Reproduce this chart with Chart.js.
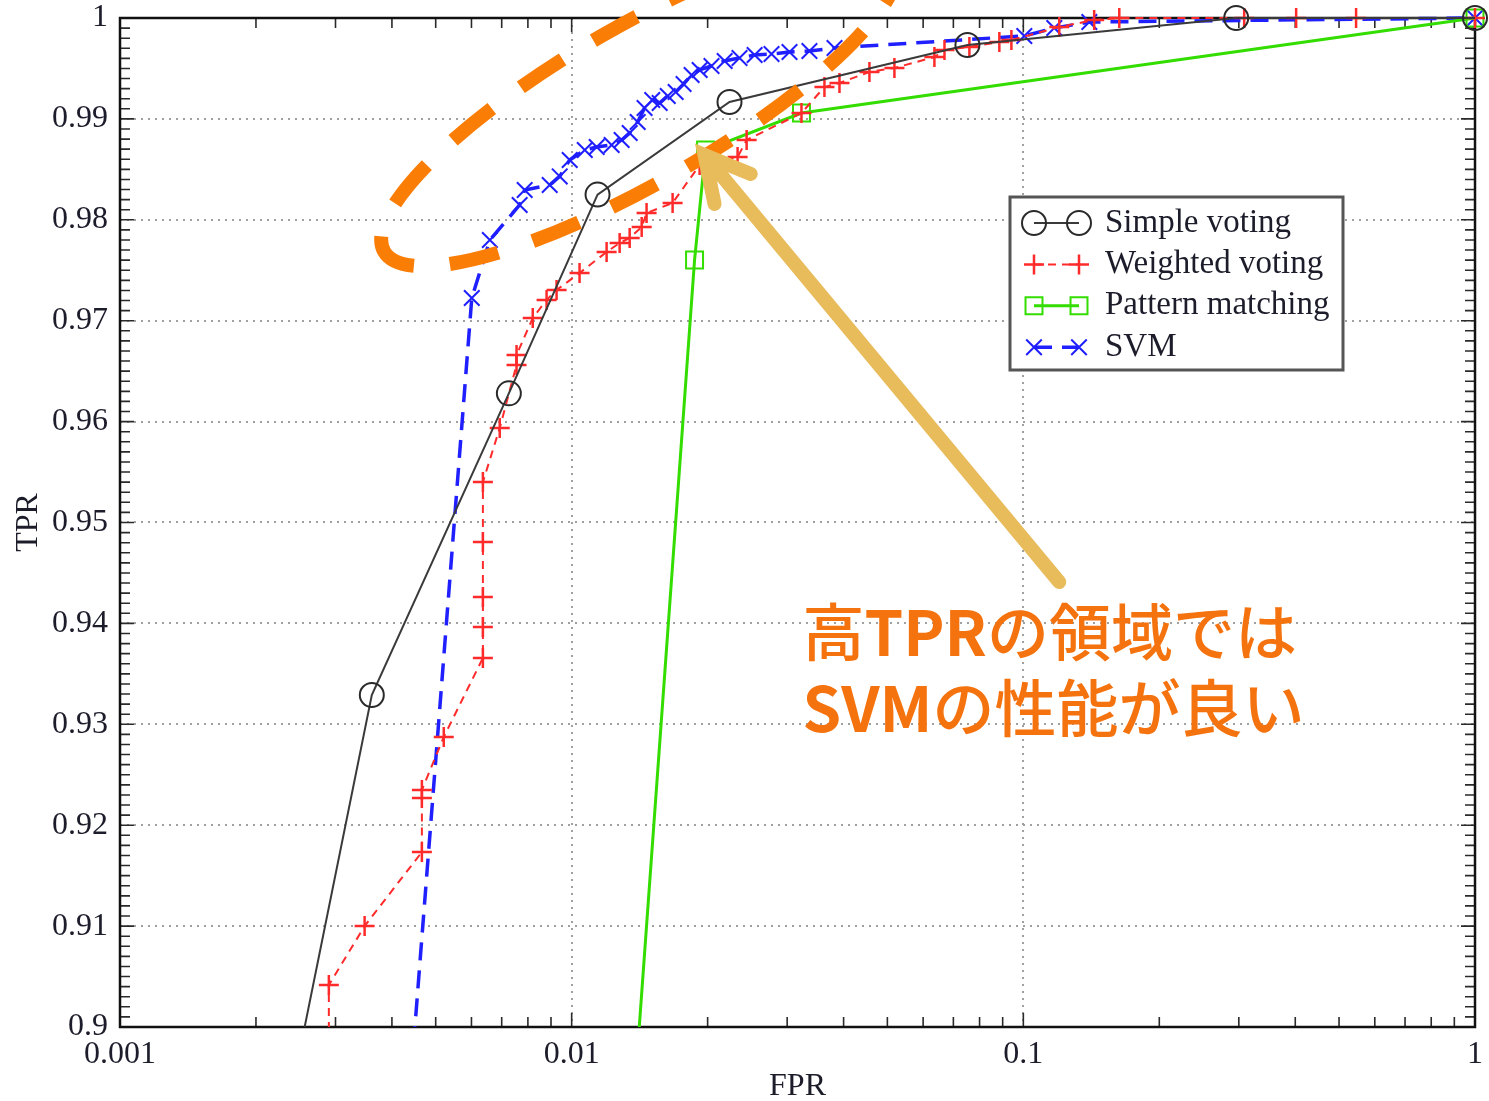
<!DOCTYPE html>
<html>
<head>
<meta charset="utf-8">
<script src="https://cdn.jsdelivr.net/npm/chart.js@4.4.0/dist/chart.umd.min.js"></script>
<style>
html, body { margin: 0; padding: 0; background: #fff; }
#wrap { width: 1489px; height: 1101px; }
</style>
</head>
<body>
<div id="wrap"><canvas id="roc"></canvas></div>
<script>
// ROC curves, values (FPR on a log axis)
const simpleFpr = [0.00231, 0.00361, 0.00726, 0.01141, 0.02236, 0.0752, 0.296, 1];
const simpleTpr = [0.89, 0.9329, 0.9628, 0.9825, 0.99167, 0.99732, 1.0, 1.0];

const weightedFpr = [0.0029, 0.0029, 0.00348, 0.00466, 0.00466, 0.00466, 0.00521, 0.00636, 0.00636, 0.00636,
  0.00636, 0.00636, 0.00693, 0.00755, 0.00755, 0.0082, 0.0088, 0.00926, 0.01041, 0.01195,
  0.01277, 0.01344, 0.01429, 0.01465, 0.01673, 0.0192, 0.0233, 0.0244, 0.03227, 0.03628,
  0.03917, 0.04563, 0.05183, 0.06355, 0.0669, 0.07596, 0.08849, 0.0941, 0.1201, 0.1435,
  0.1631, 0.3083, 0.4018, 0.5454, 1];
const weightedTpr = [0.89, 0.90416, 0.91, 0.91734, 0.9227, 0.9235, 0.92874, 0.93657, 0.93964, 0.94262,
  0.94807, 0.95401, 0.95937, 0.96561, 0.9666, 0.97027, 0.97205, 0.97304, 0.97473, 0.97681,
  0.9777, 0.9782, 0.97929, 0.98067, 0.98167, 0.98543, 0.98622, 0.98791, 0.99058, 0.99316,
  0.99356, 0.99465, 0.99505, 0.99613, 0.99683, 0.99713, 0.99762, 0.99782, 0.99911, 0.9998,
  1.0, 1.0, 1.0, 1.0, 1.0];

const patternFpr = [0.0136, 0.01871, 0.01979, 0.03227, 1];
const patternTpr = [0.89, 0.97601, 0.98692, 0.99058, 1.0];

const svmFpr = [0.00432, 0.00601, 0.00659, 0.00767, 0.00787, 0.00894, 0.00941, 0.0099, 0.01069, 0.01136,
  0.01226, 0.0129, 0.01344, 0.014, 0.0145, 0.01508, 0.01566, 0.01632, 0.01699, 0.01769,
  0.01843, 0.0192, 0.0204, 0.02181, 0.02353, 0.02541, 0.0277, 0.03036, 0.03361, 0.03819,
  0.1005, 0.1171, 0.14, 1];
const svmTpr = [0.89, 0.97225, 0.978, 0.98147, 0.98295, 0.98345, 0.9843, 0.98593, 0.98692, 0.98721,
  0.98741, 0.98791, 0.9886, 0.98969, 0.99108, 0.99187, 0.99158, 0.99227, 0.99267, 0.99346,
  0.99435, 0.99485, 0.99524, 0.99574, 0.99604, 0.99633, 0.99643, 0.99663, 0.99673, 0.99703,
  0.99822, 0.99901, 0.9996, 1.0];

const seriesNames = ["Simple voting", "Weighted voting", "Pattern matching", "SVM"];

const xMajorTicks = [0.001, 0.01, 0.1, 1];
const xTickLabels = ["0.001", "0.01", "0.1", "1"];
const yTickLabels = ["0.9", "0.91", "0.92", "0.93", "0.94", "0.95", "0.96", "0.97", "0.98", "0.99", "1"];

// annotation anchors (data space)
const ringCenter = [0.01414, 0.99148];
const arrowTip = [0.01968, 0.98642];
const arrowTail = [0.1201, 0.9441];
const noteAnchor = [0.03244, 0.93915];
const noteLines = [
  [["高", false], ["TPR", true], ["の領域では", false]],
  [["SVM", true], ["の性能が良い", false]]
];

const pts = (xs, ys) => xs.map((v, i) => ({ x: v, y: ys[i] }));

// minor ticks: 2..9 inside each decade, 0.001 steps on y
const xTicks = [];
xMajorTicks.forEach((d, i) => {
  xTicks.push({ value: d, major: true });
  if (i < xMajorTicks.length - 1) for (let k = 2; k <= 9; k++) xTicks.push({ value: d * k, major: false });
});
const yTicks = [];
for (let i = 0; i <= 100; i++) yTicks.push({ value: 0.9 + i / 1000, major: i % 10 === 0 });

const serif = "'Liberation Serif', 'Times New Roman', serif";
const clipBox = { left: 0, bottom: 0, top: 16, right: 16 };

function marker(ctx, ds, x, y) {
  ctx.save();
  ctx.strokeStyle = ds.pointBorderColor;
  ctx.fillStyle = 'rgba(0,0,0,0)';
  ctx.lineWidth = ds.pointBorderWidth;
  ctx.setLineDash([]);
  Chart.helpers.drawPoint(ctx, { pointStyle: ds.pointStyle, radius: ds.pointRadius, borderWidth: ds.pointBorderWidth, rotation: 0 }, x, y);
  ctx.restore();
}

const frame = {
  id: 'frame',
  beforeDatasetsDraw(chart) {
    const { ctx, chartArea: a, scales: { x, y } } = chart;
    ctx.save();
    ctx.strokeStyle = '#2a2a2a';
    ctx.lineWidth = 1.6;
    ctx.beginPath();
    x.ticks.forEach(t => {
      const px = x.getPixelForValue(t.value);
      const len = t.major ? 14 : 10;
      ctx.moveTo(px, a.bottom); ctx.lineTo(px, a.bottom - len);
      ctx.moveTo(px, a.top); ctx.lineTo(px, a.top + len);
    });
    y.ticks.forEach(t => {
      const py = y.getPixelForValue(t.value);
      const len = t.major ? 14 : 10;
      ctx.moveTo(a.left, py); ctx.lineTo(a.left + len, py);
      ctx.moveTo(a.right, py); ctx.lineTo(a.right - len, py);
    });
    ctx.stroke();
    ctx.lineWidth = 2.5;
    ctx.strokeStyle = '#111';
    ctx.strokeRect(a.left, a.top, a.right - a.left, a.bottom - a.top);
    ctx.restore();
  }
};

const legendBox = {
  id: 'legendBox',
  afterDatasetsDraw(chart) {
    const { ctx, chartArea: a } = chart;
    const bx = a.left + 890, by = a.top + 179, bw = 333, bh = 173;
    ctx.save();
    ctx.fillStyle = '#fff';
    ctx.fillRect(bx, by, bw, bh);
    ctx.strokeStyle = '#555';
    ctx.lineWidth = 3;
    ctx.strokeRect(bx, by, bw, bh);
    chart.data.datasets.forEach((ds, i) => {
      const ry = by + 26 + i * 41.4;
      const x1 = bx + 24, x2 = bx + 69;
      ctx.strokeStyle = ds.borderColor;
      ctx.lineWidth = ds.borderWidth;
      ctx.setLineDash(ds.borderDash || []);
      ctx.beginPath(); ctx.moveTo(x1, ry); ctx.lineTo(x2, ry); ctx.stroke();
      marker(ctx, ds, x1, ry);
      marker(ctx, ds, x2, ry);
      ctx.setLineDash([]);
      ctx.fillStyle = '#1c1c2a';
      ctx.font = '33px ' + serif;
      ctx.textBaseline = 'middle';
      ctx.fillText(ds.label, bx + 95, ry);
    });
    ctx.restore();
  }
};

const notes = {
  id: 'notes',
  afterDraw(chart) {
    const { ctx, scales: { x, y } } = chart;
    ctx.save();
    // dashed ring around the SVM region
    ctx.strokeStyle = '#FA7D05';
    ctx.lineWidth = 14;
    ctx.setLineDash([50, 36]);
    ctx.beginPath();
    ctx.ellipse(x.getPixelForValue(ringCenter[0]), y.getPixelForValue(ringCenter[1]), 295, 78, -Math.PI / 6, 0, Math.PI * 2);
    ctx.stroke();
    ctx.setLineDash([]);
    // arrow
    const tx = x.getPixelForValue(arrowTip[0]), ty = y.getPixelForValue(arrowTip[1]);
    const sx = x.getPixelForValue(arrowTail[0]), sy = y.getPixelForValue(arrowTail[1]);
    const ang = Math.atan2(sy - ty, sx - tx);
    ctx.strokeStyle = '#E8BB5B';
    ctx.lineWidth = 14;
    ctx.lineCap = 'round';
    ctx.beginPath();
    ctx.moveTo(sx, sy); ctx.lineTo(tx, ty);
    ctx.moveTo(tx + 50 * Math.cos(ang - 0.49), ty + 50 * Math.sin(ang - 0.49)); ctx.lineTo(tx, ty);
    ctx.lineTo(tx + 50 * Math.cos(ang + 0.49), ty + 50 * Math.sin(ang + 0.49));
    ctx.stroke();
    // note text
    ctx.fillStyle = '#F5730F';
    ctx.textBaseline = 'middle';
    let ly = y.getPixelForValue(noteAnchor[1]);
    noteLines.forEach(line => {
      let lx = x.getPixelForValue(noteAnchor[0]);
      line.forEach(([txt, bold]) => {
        ctx.font = (bold ? '700 ' : '500 ') + "62px 'Noto Sans CJK JP'";
        ctx.fillText(txt, lx, ly);
        lx += ctx.measureText(txt).width;
      });
      ly += 76;
    });
    ctx.restore();
  }
};

new Chart(document.getElementById('roc'), {
  type: 'scatter',
  data: {
    datasets: [
      {
        label: seriesNames[0], data: pts(simpleFpr, simpleTpr), showLine: true,
        borderColor: '#3a3a3a', borderWidth: 2,
        pointStyle: 'circle', pointRadius: 12, pointBorderWidth: 2,
        pointBorderColor: '#2a2a2a', pointBackgroundColor: 'rgba(0,0,0,0)', clip: clipBox
      },
      {
        label: seriesNames[1], data: pts(weightedFpr, weightedTpr), showLine: true,
        borderColor: '#FF2B2B', borderWidth: 2, borderDash: [8, 6],
        pointStyle: 'cross', pointRadius: 10, pointBorderWidth: 2.5,
        pointBorderColor: '#FF2B2B', pointBackgroundColor: 'rgba(0,0,0,0)', clip: clipBox
      },
      {
        label: seriesNames[2], data: pts(patternFpr, patternTpr), showLine: true,
        borderColor: '#33DD00', borderWidth: 3,
        pointStyle: 'rect', pointRadius: 12, pointBorderWidth: 2,
        pointBorderColor: '#33DD00', pointBackgroundColor: 'rgba(0,0,0,0)', clip: clipBox
      },
      {
        label: seriesNames[3], data: pts(svmFpr, svmTpr), showLine: true,
        borderColor: '#1F1FFF', borderWidth: 3.5, borderDash: [18, 10],
        pointStyle: 'crossRot', pointRadius: 11, pointBorderWidth: 2,
        pointBorderColor: '#1F1FFF', pointBackgroundColor: 'rgba(0,0,0,0)', clip: clipBox
      }
    ]
  },
  options: {
    responsive: true,
    maintainAspectRatio: false,
    animation: false,
    devicePixelRatio: 1,
    events: [],
    layout: { padding: { top: 18, right: 10, left: 0, bottom: 0 } },
    plugins: { legend: { display: false }, tooltip: { enabled: false } },
    scales: {
      x: {
        type: 'logarithmic', position: 'bottom', min: 0.001, max: 1,
        afterBuildTicks: s => { s.ticks = xTicks.map(t => ({ ...t })); },
        afterFit: s => { s.height = 74; s.paddingLeft = 0; s.paddingRight = 0; },
        ticks: {
          autoSkip: false, maxRotation: 0, padding: 8, color: '#1c1c2a',
          font: { family: serif, size: 32 },
          callback: (v, i, ticks) => ticks[i].major ? xTickLabels[xMajorTicks.indexOf(v)] : ''
        },
        grid: { drawTicks: false, lineWidth: 2, color: c => (c.tick && c.tick.major) ? '#a0a0a0' : 'rgba(0,0,0,0)' },
        border: { display: false, dash: [2, 5] },
        title: { display: true, text: 'FPR', color: '#1c1c2a', font: { family: serif, size: 32, lineHeight: 0.875 }, padding: { top: 0, bottom: 0 } }
      },
      y: {
        type: 'linear', min: 0.9, max: 1.0,
        afterBuildTicks: s => { s.ticks = yTicks.map(t => ({ ...t })); },
        afterFit: s => { s.width = 120; s.paddingTop = 0; s.paddingBottom = 0; },
        ticks: {
          autoSkip: false, padding: 12, color: '#1c1c2a',
          font: { family: serif, size: 32 },
          callback: (v, i, ticks) => ticks[i].major ? yTickLabels[Math.round((v - 0.9) * 100)] : ''
        },
        grid: { drawTicks: false, lineWidth: 2, color: c => (c.tick && c.tick.major) ? '#a0a0a0' : 'rgba(0,0,0,0)' },
        border: { display: false, dash: [2, 5] },
        title: { display: true, text: 'TPR', color: '#1c1c2a', font: { family: serif, size: 32 }, padding: { top: 9, bottom: 0 } }
      }
    }
  },
  plugins: [frame, legendBox, notes]
});
</script>
</body>
</html>
